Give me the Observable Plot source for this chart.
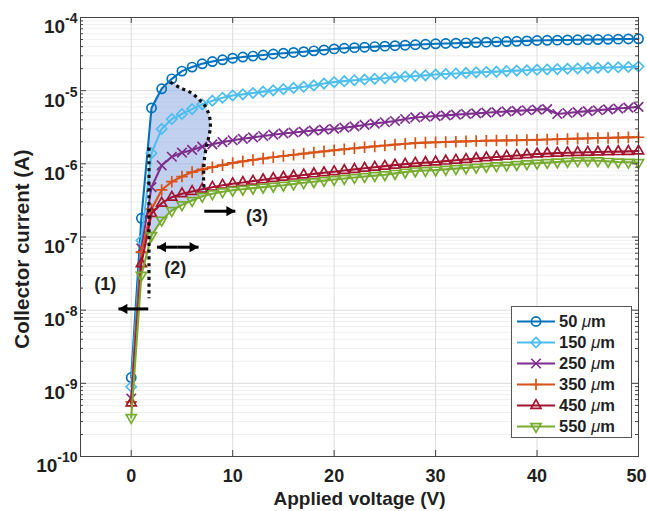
<!DOCTYPE html>
<html><head><meta charset="utf-8">
<script src="https://cdn.jsdelivr.net/npm/d3@7"></script>
<script src="https://cdn.jsdelivr.net/npm/@observablehq/plot@0.6"></script>
<style>
html,body{margin:0;padding:0;background:#fff;}
#chart{position:relative;width:647px;height:511px;}
svg{font-family:"Liberation Sans",Arial,Helvetica,sans-serif;}
</style></head><body><div id="chart"></div>
<script>
// ---------- data ----------
const voltage = [0,1,2,3,4,5,6,7,8,9,10,11,12,13,14,15,16,17,18,19,20,21,22,23,24,25,26,27,28,29,30,31,32,33,34,35,36,37,38,39,40,41,42,43,44,45,46,47,48,49,50];
const seriesNames = ["50", "150", "250", "350", "450", "550"];
const cur50 = [1.2e-9,1.8e-7,5.8e-6,1.06e-5,1.45e-5,1.85e-5,2.1e-5,2.33e-5,2.5e-5,2.64e-5,2.78e-5,2.88e-5,2.97e-5,3.07e-5,3.17e-5,3.25e-5,3.33e-5,3.41e-5,3.5e-5,3.6e-5,3.72e-5,3.8e-5,3.87e-5,3.93e-5,4.0e-5,4.06e-5,4.12e-5,4.18e-5,4.24e-5,4.3e-5,4.37e-5,4.41e-5,4.45e-5,4.5e-5,4.55e-5,4.6e-5,4.65e-5,4.69e-5,4.73e-5,4.79e-5,4.85e-5,4.88e-5,4.9e-5,4.93e-5,4.96e-5,4.98e-5,5.0e-5,5.03e-5,5.06e-5,5.09e-5,5.12e-5];
const cur150 = [9.0e-10,9.0e-8,1.4e-6,3.0e-6,4.1e-6,4.8e-6,5.6e-6,6.5e-6,7.3e-6,8.0e-6,8.6e-6,8.9e-6,9.3e-6,9.7e-6,1.01e-5,1.05e-5,1.09e-5,1.13e-5,1.18e-5,1.25e-5,1.31e-5,1.35e-5,1.39e-5,1.42e-5,1.45e-5,1.48e-5,1.52e-5,1.56e-5,1.59e-5,1.62e-5,1.66e-5,1.69e-5,1.72e-5,1.75e-5,1.78e-5,1.8e-5,1.82e-5,1.85e-5,1.88e-5,1.9e-5,1.93e-5,1.95e-5,1.97e-5,1.99e-5,2.01e-5,2.03e-5,2.05e-5,2.07e-5,2.09e-5,2.11e-5,2.14e-5];
const cur250 = [6.2e-10,7.0e-8,4.8e-7,9.5e-7,1.25e-6,1.42e-6,1.55e-6,1.72e-6,1.85e-6,1.98e-6,2.1e-6,2.2e-6,2.3e-6,2.4e-6,2.5e-6,2.6e-6,2.68e-6,2.76e-6,2.85e-6,2.93e-6,3.0e-6,3.12e-6,3.25e-6,3.4e-6,3.55e-6,3.7e-6,3.85e-6,4.1e-6,4.3e-6,4.4e-6,4.5e-6,4.6e-6,4.7e-6,4.8e-6,4.9e-6,5.0e-6,5.1e-6,5.2e-6,5.3e-6,5.4e-6,5.5e-6,5.6e-6,4.8e-6,4.95e-6,5.1e-6,5.25e-6,5.4e-6,5.55e-6,5.7e-6,5.85e-6,6.0e-6];
const cur350 = [5.6e-10,6.2e-8,2.4e-7,4.4e-7,5.7e-7,6.7e-7,7.7e-7,8.4e-7,9.0e-7,9.6e-7,1.03e-6,1.08e-6,1.13e-6,1.18e-6,1.23e-6,1.28e-6,1.33e-6,1.38e-6,1.43e-6,1.48e-6,1.53e-6,1.58e-6,1.63e-6,1.68e-6,1.73e-6,1.78e-6,1.83e-6,1.88e-6,1.92e-6,1.95e-6,1.97e-6,1.99e-6,2.01e-6,2.03e-6,2.05e-6,2.07e-6,2.08e-6,2.09e-6,2.1e-6,2.12e-6,2.13e-6,2.15e-6,2.17e-6,2.19e-6,2.21e-6,2.23e-6,2.25e-6,2.26e-6,2.28e-6,2.3e-6,2.31e-6];
const cur450 = [5.4e-10,4.3e-8,2.1e-7,2.9e-7,3.5e-7,3.9e-7,4.2e-7,4.5e-7,4.8e-7,5.1e-7,5.35e-7,5.55e-7,5.8e-7,6.05e-7,6.3e-7,6.55e-7,6.8e-7,7.05e-7,7.3e-7,7.55e-7,7.8e-7,8.1e-7,8.4e-7,8.7e-7,9.0e-7,9.3e-7,9.6e-7,9.9e-7,1.02e-6,1.04e-6,1.06e-6,1.09e-6,1.12e-6,1.15e-6,1.18e-6,1.21e-6,1.24e-6,1.27e-6,1.3e-6,1.33e-6,1.36e-6,1.38e-6,1.4e-6,1.42e-6,1.43e-6,1.44e-6,1.45e-6,1.46e-6,1.47e-6,1.48e-6,1.5e-6];
const cur550 = [3.4e-10,3.0e-8,1.05e-7,1.7e-7,2.3e-7,2.75e-7,3.15e-7,3.6e-7,3.9e-7,4.15e-7,4.35e-7,4.5e-7,4.65e-7,4.8e-7,4.95e-7,5.1e-7,5.3e-7,5.5e-7,5.7e-7,5.9e-7,6.1e-7,6.3e-7,6.5e-7,6.7e-7,6.9e-7,7.1e-7,7.4e-7,7.7e-7,8.0e-7,8.1e-7,8.2e-7,8.4e-7,8.6e-7,8.8e-7,9.0e-7,9.2e-7,9.4e-7,9.6e-7,9.8e-7,1.0e-6,1.02e-6,1.04e-6,1.06e-6,1.08e-6,1.1e-6,1.11e-6,1.1e-6,1.08e-6,1.06e-6,1.05e-6,1.04e-6];

// shaded region (2) boundary and dotted lines
const regionV = [1.75,2,3,3.85,4.84,5.82,6.64,7.31,7.73,7.8,7.63,7.4,7.2,7.14,7.2,7.5,7,6,5,4,3,2,1.75];
const regionI = [1.67e-6,5.8e-6,1.06e-5,1.31e-5,1.09e-5,9.5e-6,7.7e-6,6.1e-6,4.3e-6,3.2e-6,2.3e-6,1.7e-6,1.1e-6,7.3e-7,4.8e-7,4.3e-7,3.6e-7,3.15e-7,2.75e-7,2.3e-7,1.7e-7,1.05e-7,7.7e-8];
const dotCurveV = [3.85,4.84,5.82,6.64,7.31,7.73,7.8,7.63,7.4,7.2,7.14,7.2,7.5];
const dotCurveI = [1.31e-5,1.09e-5,9.5e-6,7.7e-6,6.1e-6,4.3e-6,3.2e-6,2.3e-6,1.7e-6,1.1e-6,7.3e-7,4.8e-7,4.3e-7];
const dotVertV = [1.75,1.75];
const dotVertI = [1.67e-6,1.45e-8];

// arrows: start V, tip V, current level
const arrowLeftStart = [1.68, 4.59];
const arrowLeftTip = [-1.26, 2.54];
const arrowLeftI = [1.04e-8, 7.26e-8];
const arrowRightStart = [4.59, 7.2];
const arrowRightTip = [6.64, 10.26];
const arrowRightI = [7.26e-8, 2.25e-7];
const regionLabels = ["(1)", "(2)", "(3)"];
const regionLabelV = [-2.57, 4.34, 12.4];
const regionLabelI = [2.24e-8, 3.72e-8, 1.92e-7];

const xTicks = [0,10,20,30,40,50];
const yTicks = [1e-10,1e-9,1e-8,1e-7,1e-6,1e-5,1e-4];

// ---------- styles ----------
const colors = ["#0072BD","#4DBEEE","#7E2F8E","#D95319","#A2142F","#77AC30"];
const symbols = ["circle","diamond2","times","plus","triangle2","triangle2"];
const symR = [4.6,4.6,4.4,3.8,4.8,4.8];
const symRot = [0,0,0,0,0,180];

const allCur = [cur50,cur150,cur250,cur350,cur450,cur550];
const rows = seriesNames.map((s,i)=>voltage.map((v,j)=>({v, I: allCur[i][j], s})));

const W=647,H=511,mL=80,mR=9,mT=17,mB=55;
const fw=W-mL-mR, fh=H-mT-mB;
const allYTicks = d3.scaleLog().domain([1e-10,1e-4]).ticks();
const isDecade = d => Math.abs(Math.log10(d)-Math.round(Math.log10(d)))<1e-6;
const minorY = allYTicks.filter(d=>!isDecade(d));

const region = regionV.map((v,i)=>({v, I: regionI[i]}));
const dotCurve = dotCurveV.map((v,i)=>({v, I: dotCurveI[i]}));
const dotVert = dotVertV.map((v,i)=>({v, I: dotVertI[i]}));
const arrL = arrowLeftStart.map((s,i)=>({x1:s, x2:arrowLeftTip[i], y:arrowLeftI[i]}));
const arrR = arrowRightStart.map((s,i)=>({x1:s, x2:arrowRightTip[i], y:arrowRightI[i]}));
const labs = regionLabels.map((t,i)=>({t, v: regionLabelV[i], I: regionLabelI[i]}));

const axisColor = "#444";
const txtColor = "#1f1f1f";

const marks = [
  Plot.gridY(minorY, {stroke:"#efefef", strokeOpacity:1}),
  Plot.gridY(yTicks, {stroke:"#dcdcdc", strokeOpacity:1}),
  Plot.gridX(xTicks, {stroke:"#dcdcdc", strokeOpacity:1}),
  Plot.line(region, {x:"v", y:"I", fill:"#98b0e6", fillOpacity:0.58, stroke:"none", curve:"catmull-rom"}),
];
rows.forEach((data,i)=>{
  marks.push(Plot.line(data, {x:"v", y:"I", stroke: colors[i], strokeWidth: 2.1}));
  marks.push(Plot.dot(data, {x:"v", y:"I", symbol: symbols[i], r: symR[i], rotate: symRot[i], stroke: colors[i], fill:"none", strokeWidth: 1.7}));
});
marks.push(
  Plot.line(dotCurve, {x:"v", y:"I", stroke:"#111", strokeWidth:3.2, strokeDasharray:"3.2,3.6", strokeLinecap:"butt", curve:"catmull-rom"}),
  Plot.line(dotVert, {x:"v", y:"I", stroke:"#111", strokeWidth:3.2, strokeDasharray:"3.2,3.6", strokeLinecap:"butt"}),
  Plot.link(arrL, {x1:"x1", x2:"x2", y1:"y", y2:"y", stroke:"#000", strokeWidth:3}),
  Plot.link(arrR, {x1:"x1", x2:"x2", y1:"y", y2:"y", stroke:"#000", strokeWidth:3}),
  Plot.dot(arrL, {x:"x2", y:"y", symbol:"triangle", r:3.8, rotate:-90, fill:"#000", stroke:"none", dx:6}),
  Plot.dot(arrR, {x:"x2", y:"y", symbol:"triangle", r:3.8, rotate:90, fill:"#000", stroke:"none", dx:-6}),
  Plot.text(labs, {x:"v", y:"I", text:"t", fontSize:18, fontWeight:"bold", fill:txtColor}),
  Plot.tickX(xTicks, {x:d=>d, insetTop: fh-6, stroke:axisColor}),
  Plot.tickX(xTicks, {x:d=>d, insetBottom: fh-6, stroke:axisColor}),
  Plot.tickY(yTicks, {y:d=>d, insetRight: fw-6, stroke:axisColor}),
  Plot.tickY(yTicks, {y:d=>d, insetLeft: fw-6, stroke:axisColor}),
  Plot.tickY(minorY, {y:d=>d, insetRight: fw-3, stroke:axisColor}),
  Plot.tickY(minorY, {y:d=>d, insetLeft: fw-3, stroke:axisColor}),
  Plot.frame({stroke: axisColor}),
  Plot.axisX(xTicks.slice(0,5), {tickSize: 0, tickPadding: 13, fontSize: 18, fontWeight: "bold", fill: txtColor, label: null}),
  Plot.axisX(xTicks.slice(5), {tickSize: 0, tickPadding: 13, fontSize: 18, fontWeight: "bold", fill: txtColor, label: null, dx: -2}),
  Plot.axisY(yTicks, {tickSize: 0, tickPadding: 3, fontSize: 19, fontWeight: "bold", fill: txtColor, label: null,
    tickFormat: d => String(Math.round(Math.log10(d)))}),
  Plot.text(["Applied voltage (V)"], {text:d=>d, frameAnchor:"bottom", lineAnchor:"middle", textAnchor:"middle", dy:42, fontSize:19, fontWeight:"bold", fill:txtColor}),
  Plot.text(["Collector current (A)"], {text:d=>d, frameAnchor:"left", textAnchor:"middle", lineAnchor:"middle", dx:-58, dy:12, rotate:-90, fontSize:20.5, fontWeight:"bold", fill:txtColor})
);

const svgEl = Plot.plot({
  width: W, height: H, marginLeft: mL, marginRight: mR, marginTop: mT, marginBottom: mB,
  style: {fontFamily: '"Liberation Sans", Arial, Helvetica, sans-serif', background: "#fff"},
  x: {domain: [-5, 50], label: null},
  y: {type: "log", domain: [1e-10, 1e-4], label: null},
  marks
});
document.getElementById("chart").appendChild(svgEl);

const svg = d3.select(svgEl);
// superscript y tick labels
svg.selectAll('g[aria-label="y-axis tick label"] text').each(function(){
  const t = d3.select(this);
  const e = t.text();
  t.text(null).attr("dy", "0.52em");
  t.append("tspan").text("10");
  t.append("tspan").attr("dy", -10).attr("font-size", 14).text(e);
});

// legend
const lg = svg.append("g").attr("text-anchor", "start");
lg.append("rect").attr("x",511.5).attr("y",306.5).attr("width",120).attr("height",131)
  .attr("fill","#fff").attr("stroke","#555").attr("stroke-width",1);
const d3sym = {circle:d3.symbolCircle, diamond2:d3.symbolDiamond2, times:d3.symbolTimes, plus:d3.symbolPlus, triangle2:d3.symbolTriangle2};
seriesNames.forEach((s,i)=>{
  const y = 321.5 + i*21;
  lg.append("line").attr("x1",517).attr("x2",555).attr("y1",y).attr("y2",y).attr("stroke",colors[i]).attr("stroke-width",2.1);
  lg.append("path").attr("d", d3.symbol(d3sym[symbols[i]], Math.PI*symR[i]*symR[i])())
    .attr("transform",`translate(536,${y}) rotate(${symRot[i]})`)
    .attr("fill","none").attr("stroke",colors[i]).attr("stroke-width",1.7);
  const t = lg.append("text").attr("x",559).attr("y",y).attr("dy","0.36em").attr("text-anchor","start")
    .attr("font-size",16.5).attr("font-weight","bold").attr("fill",txtColor);
  t.append("tspan").text(s + " ");
  t.append("tspan").attr("font-style","italic").attr("font-weight","normal").text("\u03BC");
  t.append("tspan").text("m");
});
</script></body></html>
